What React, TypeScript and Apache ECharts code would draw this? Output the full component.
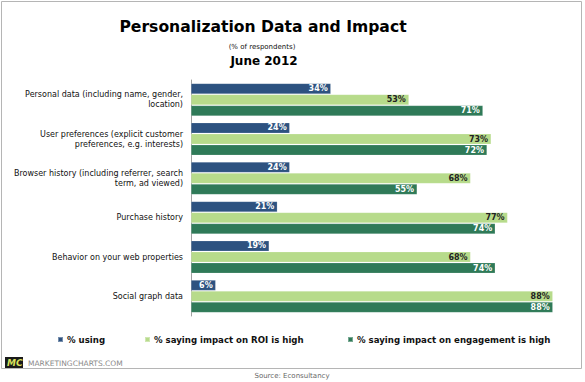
import React, { useEffect, useRef } from "react";
import * as echarts from "echarts";

const categories = [
  "Personal data (including name, gender,\nlocation)",
  "User preferences (explicit customer\npreferences, e.g. interests)",
  "Browser history (including referrer, search\nterm, ad viewed)",
  "Purchase history",
  "Behavior on your web properties",
  "Social graph data",
];
const seriesNames = [
  "% using",
  "% saying impact on ROI is high",
  "% saying impact on engagement is high",
];
const usingValues = [34, 24, 24, 21, 19, 6];
const roiValues = [53, 73, 68, 77, 68, 88];
const engagementValues = [71, 72, 55, 74, 74, 88];

const colors = ["#2d5280", "#b7db8b", "#2f7a58"];
const labelColors = ["#ffffff", "#222222", "#ffffff"];

export default function App() {
  const ref = useRef<HTMLDivElement>(null);
  useEffect(() => {
    if (!ref.current) return;
    const chart = echarts.init(ref.current, null, { renderer: "svg" });
    const font = "DejaVu Sans, Verdana, sans-serif";
    const values = [usingValues, roiValues, engagementValues];
    const legendLefts = [57, 144, 347];
    chart.setOption({
      animation: false,
      backgroundColor: "#ffffff",
      textStyle: { fontFamily: font },
      graphic: [
        {
          type: "rect",
          z: -10,
          shape: { x: 1.5, y: 1.5, width: 580, height: 367 },
          style: { fill: "#ffffff", stroke: "#b5b5b5", lineWidth: 1 },
        },
        {
          type: "rect",
          shape: { x: 5, y: 357, width: 18, height: 11 },
          style: { fill: "#1a1a1a" },
        },
        {
          type: "text",
          x: 7,
          y: 358,
          style: {
            text: "MC",
            fill: "#d8e35a",
            font: "italic bold 9px DejaVu Sans",
          },
        },
        {
          type: "text",
          x: 28,
          y: 359,
          style: {
            text: "MARKETINGCHARTS.COM",
            fill: "#8a8a8a",
            font: "7.5px DejaVu Sans",
          },
        },
        {
          type: "text",
          x: 292,
          y: 372,
          style: {
            text: "Source: Econsultancy",
            fill: "#666666",
            font: "7px DejaVu Sans",
            textAlign: "center",
          },
        },
        {
          type: "text",
          x: 263,
          y: 19,
          style: {
            text: "Personalization Data and Impact",
            fill: "#000000",
            font: "bold 15.6px DejaVu Sans",
            textAlign: "center",
          },
        },
        {
          type: "text",
          x: 262,
          y: 43,
          style: {
            text: "(% of respondents)",
            fill: "#111111",
            font: "7px DejaVu Sans",
            textAlign: "center",
          },
        },
        {
          type: "text",
          x: 264,
          y: 55,
          style: {
            text: "June 2012",
            fill: "#000000",
            font: "bold 12px DejaVu Sans",
            textAlign: "center",
          },
        },
      ],
      legend: seriesNames.map((n, i) => ({
        data: [n],
        left: legendLefts[i],
        top: 335,
        icon: "rect",
        itemWidth: 5,
        itemHeight: 5,
        itemGap: 0,
        padding: 0,
        textStyle: {
          fontFamily: font,
          fontWeight: "bold",
          fontSize: 8.6,
          color: "#111111",
          padding: [0, 0, 0, -1],
        },
      })),
      grid: { left: 191, top: 80, width: 370, height: 236 },
      xAxis: {
        type: "value",
        min: 0,
        max: 90,
        show: false,
      },
      yAxis: {
        type: "category",
        data: categories,
        inverse: true,
        axisLine: { lineStyle: { color: "#a0a0a0" } },
        axisTick: { length: 3, lineStyle: { color: "#a0a0a0" } },
        axisLabel: {
          fontFamily: font,
          fontSize: 8,
          color: "#111111",
          margin: 8,
          lineHeight: 10,
          align: "right",
        },
      },
      series: seriesNames.map((n, i) => ({
        name: n,
        type: "bar",
        data: values[i],
        barWidth: 10.5,
        barGap: "5%",
        itemStyle: {
          color: colors[i],
          borderColor: "rgba(255,255,255,0.35)",
          borderWidth: 0.5,
        },
        label: {
          show: true,
          position: "insideRight",
          formatter: "{c}%",
          color: labelColors[i],
          fontFamily: font,
          fontWeight: "bold",
          fontSize: 8,
          distance: 3,
        },
      })),
    });
    return () => chart.dispose();
  }, []);
  return <div ref={ref} style={{ width: 585, height: 382, position: "absolute", left: 0, top: 0 }} />;
}
